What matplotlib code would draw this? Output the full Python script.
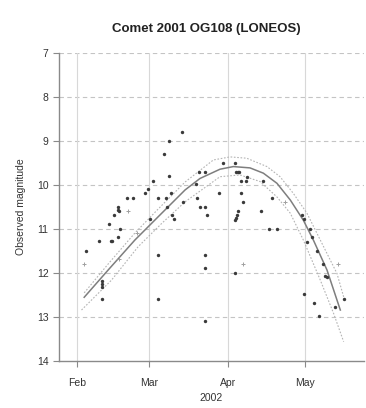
import matplotlib
matplotlib.use("Agg")
import matplotlib.pyplot as plt

# Days since 2002-02-01 (Feb 1 = 0, Mar 1 = 28, Apr 1 = 59, May 1 = 89)
obs_day = [3.7, 8.7, 13.2, 13.8, 15.9, 16.8, 12.6, 14.6, 15.9, 15.9, 16.6,
           19.5, 21.7, 26.6, 27.6, 29.6, 28.7, 9.6, 9.6, 9.6, 9.6,
           41.1, 36.0, 34.1, 35.8, 31.7, 34.7, 36.5, 35.0, 37.0, 38.0, 41.2,
           46.6, 47.7, 49.8, 46.8, 48.0, 50.0, 50.9, 55.6, 31.7, 31.7,
           50.0, 50.0, 50.0,
           56.9, 61.5, 62.1, 62.7, 63.2, 66.4, 65.8, 64.1, 72.7, 63.9, 64.7,
           76.0, 71.7, 62.7, 62.3, 61.9, 61.7, 74.9, 78.1, 61.7,
           87.9, 88.7, 90.7, 91.6, 89.7, 93.7, 95.8, 96.8, 97.6, 88.7, 92.6,
           94.5, 100.7, 104.0]
obs_mag = [11.49, 11.28, 11.28, 11.28, 11.18, 11.00, 10.89, 10.67, 10.57, 10.49, 10.59,
           10.30, 10.30, 10.19, 10.09, 9.90, 10.78, 12.18, 12.25, 12.32, 12.58,
           8.79, 8.99, 9.30, 9.80, 10.30, 10.30, 10.19, 10.49, 10.67, 10.78, 10.38,
           9.98, 9.70, 9.70, 10.29, 10.49, 10.49, 10.67, 10.19, 11.59, 12.58,
           11.59, 11.88, 13.08,
           9.50, 9.50, 9.70, 9.70, 9.70, 9.81, 9.90, 9.90, 9.90, 10.19, 10.39,
           10.30, 10.59, 10.59, 10.68, 10.75, 10.80, 11.00, 11.00, 12.00,
           10.67, 10.78, 11.00, 11.18, 11.29, 11.50, 11.79, 12.07, 12.08, 12.48, 12.68,
           12.98, 12.78, 12.58]

# Fainter (light) observations
faint_day = [2.7, 19.9, 16.4, 23.3, 81.1, 64.7, 101.9]
faint_mag = [11.80, 10.58, 11.68, 11.09, 10.38, 11.80, 11.80]

# Fitted light curve and bounds
fit_day = [2.85, 12.2, 22.6, 31.7, 42.2, 48.0, 55.8, 61.0, 67.5, 72.7, 78.0, 83.2, 88.3, 92.2, 97.5, 102.7]
fit_mag = [12.55, 11.93, 11.25, 10.72, 10.11, 9.85, 9.64, 9.58, 9.61, 9.73, 9.96, 10.34, 10.80, 11.25, 11.93, 12.84]

low_day = [1.8, 13.5, 23.9, 33.1, 42.2, 55.8, 63.6, 71.4, 78.0, 83.2, 88.3, 94.9, 100.1, 104.0]
low_mag = [12.84, 12.16, 11.40, 10.87, 10.38, 9.81, 9.77, 9.92, 10.27, 10.64, 11.25, 12.16, 12.92, 13.56]

up_day = [2.85, 12.1, 22.6, 31.6, 42.2, 53.2, 59.7, 66.2, 74.1, 79.2, 84.4, 89.7, 94.9, 101.4, 104.0]
up_mag = [12.45, 11.80, 11.09, 10.55, 9.93, 9.43, 9.36, 9.39, 9.58, 9.81, 10.19, 10.64, 11.25, 12.01, 12.54]

month_ticks = [0, 28, 59, 89]
month_labels = ["Feb", "Mar", "Apr", "May"]
mag_ticks = [7, 8, 9, 10, 11, 12, 13, 14]

plt.rcParams['font.family'] = ['Liberation Sans', 'DejaVu Sans']

fig = plt.figure(figsize=(3.66, 4.08), dpi=100)
ax = fig.add_axes([0.161, 0.115, 0.834, 0.755])

ax.set_xlim(-7, 112)
ax.set_ylim(14, 7)

# grid
for m in mag_ticks[:-1]:
    ax.axhline(m, color="#c4c4c4", lw=0.8, ls=(0, (4, 3)), zorder=0)
for d in month_ticks:
    ax.axvline(d, color="#d8d8d8", lw=0.8, zorder=0)

ax.plot(low_day, low_mag, color="#b4b4b4", lw=0.8, ls=(0, (1.5, 1.5)), zorder=1)
ax.plot(up_day, up_mag, color="#b4b4b4", lw=0.8, ls=(0, (1.5, 1.5)), zorder=1)
ax.plot(fit_day, fit_mag, color="#7e7e7e", lw=1.1, zorder=2)

ax.scatter(obs_day, obs_mag, s=6, marker='o', color="#3a3a3a", linewidths=0, zorder=3)
ax.scatter(faint_day, faint_mag, s=5, marker='+', color="#a0a0a0", linewidths=0.7, zorder=3)

for s in ["top", "right"]:
    ax.spines[s].set_visible(False)
for s in ["left", "bottom"]:
    ax.spines[s].set_color("#8a8a8a")
    ax.spines[s].set_linewidth(1.0)

ax.set_xticks(month_ticks)
ax.set_xticklabels(month_labels)
ax.set_yticks(mag_ticks)
ax.set_yticklabels([str(v) for v in mag_ticks])
ax.tick_params(axis="both", labelsize=7.5, colors="#333333", length=4, width=0.8, direction="out")
ax.tick_params(axis="both", color="#8a8a8a")
ax.tick_params(axis="x", pad=8)

ax.set_xlabel("2002", fontsize=7.5, color="#333333", labelpad=4)
ax.set_ylabel("Observed magnitude", fontsize=7.5, color="#333333", labelpad=8)

fig.text(0.565, 0.93, "Comet 2001 OG108 (LONEOS)", ha="center", va="center",
         fontsize=9.5, fontweight="bold", color="#222222")

fig.savefig("out.png", dpi=100)
